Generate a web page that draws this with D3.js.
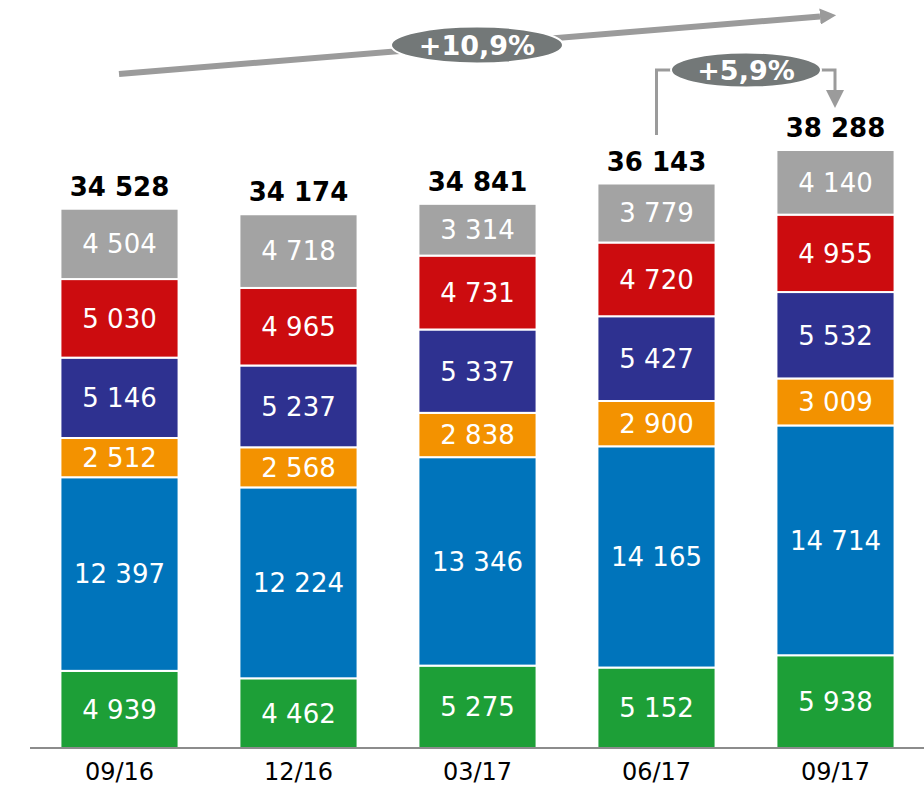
<!DOCTYPE html>
<html><head><meta charset="utf-8">
<script src="https://cdn.jsdelivr.net/npm/d3@7"></script>
<style>html,body{margin:0;padding:0;background:#fff;}svg{display:block;}</style>
</head><body>
<svg id="chart" width="924" height="788"></svg>
<script>
const categories = ["09/16", "12/16", "03/17", "06/17", "09/17"];
const seriesNames = ["s1", "s2", "s3", "s4", "s5", "s6"];
const seriesColors = ["#1d9f37", "#0074bb", "#f39200", "#2e3190", "#cc0c0f", "#a3a3a3"];
const green  = [4939, 4462, 5275, 5152, 5938];
const blue   = [12397, 12224, 13346, 14165, 14714];
const orange = [2512, 2568, 2838, 2900, 3009];
const navy   = [5146, 5237, 5337, 5427, 5532];
const red    = [5030, 4965, 4731, 4720, 4955];
const gray   = [4504, 4718, 3314, 3779, 4140];
const totals = [34528, 34174, 34841, 36143, 38288];
const growthAll = "+10,9%";
const growthLast = "+5,9%";

const seriesValues = [green, blue, orange, navy, red, gray];
const fmt = v => d3.format(",")(v).replace(/,/g, " ");

const svg = d3.select("#chart");
const font = "'DejaVu Sans', Verdana, sans-serif";

const x = d3.scaleBand().domain(categories).range([30, 925]).paddingInner(0.34).paddingOuter(0.17);
const y = d3.scaleLinear().domain([0, 38288]).range([748, 150]);

const table = categories.map((c, i) => {
  const o = {cat: c};
  seriesNames.forEach((s, j) => o[s] = seriesValues[j][i]);
  return o;
});
const stack = d3.stack().keys(seriesNames)(table);

const g = svg.append("g");
stack.forEach((layer, j) => {
  const lg = g.append("g");
  lg.selectAll("rect").data(layer).join("rect")
    .attr("x", d => x(d.data.cat))
    .attr("width", x.bandwidth())
    .attr("y", d => y(d[1]))
    .attr("height", d => y(d[0]) - y(d[1]))
    .attr("fill", seriesColors[j])
    .attr("stroke", "#fff").attr("stroke-width", 2);
  lg.selectAll("text").data(layer).join("text")
    .attr("x", d => x(d.data.cat) + x.bandwidth() / 2)
    .attr("y", d => (y(d[0]) + y(d[1])) / 2)
    .attr("dy", "0.36em")
    .attr("text-anchor", "middle")
    .attr("fill", "#fff")
    .style("font-family", font).style("font-size", "26px")
    .text(d => fmt(d[1] - d[0]));
});

// totals
g.selectAll("text.total").data(categories).join("text").attr("class", "total")
  .attr("x", c => x(c) + x.bandwidth() / 2)
  .attr("y", (c, i) => y(totals[i]) - 13)
  .attr("text-anchor", "middle")
  .style("font-family", font).style("font-size", "26px").style("font-weight", "bold")
  .attr("fill", "#000")
  .text((c, i) => fmt(totals[i]));

// axis
const axis = d3.axisBottom(x).tickSize(0).tickPadding(15);
const ax = svg.append("g").attr("transform", `translate(0,${y(0)})`).call(axis);
ax.select(".domain").attr("stroke", "#8c8c8c").attr("stroke-width", 2).attr("d", "M30,0H924");
ax.selectAll("text").style("font-family", font).style("font-size", "24px").attr("fill", "#000");

// defs
const defs = svg.append("defs");
defs.append("marker").attr("id", "ah").attr("viewBox", "0 0 10 10").attr("refX", 0).attr("refY", 5)
  .attr("markerWidth", 2.7).attr("markerHeight", 2.7).attr("orient", "auto").attr("markerUnits", "strokeWidth")
  .append("path").attr("d", "M0,0L10,5L0,10Z").attr("fill", "#9b9b9b");
defs.append("marker").attr("id", "ah2").attr("viewBox", "0 0 10 10").attr("refX", 0).attr("refY", 5)
  .attr("markerWidth", 6).attr("markerHeight", 6).attr("orient", "auto").attr("markerUnits", "strokeWidth")
  .append("path").attr("d", "M0,0L10,5L0,10Z").attr("fill", "#9b9b9b");

// big arrow
const ann = svg.append("g");
ann.append("line").attr("x1", 119).attr("y1", 74).attr("x2", 820).attr("y2", 16.5)
  .attr("stroke", "#9b9b9b").attr("stroke-width", 6).attr("marker-end", "url(#ah)");
ann.append("ellipse").attr("cx", 477).attr("cy", 45).attr("rx", 86).attr("ry", 18.5)
  .attr("fill", "#737878").attr("stroke", "#fff").attr("stroke-width", 2);
ann.append("text").attr("x", 477).attr("y", 45).attr("dy", "0.36em").attr("text-anchor", "middle")
  .attr("fill", "#fff").style("font-family", font).style("font-size", "27px").style("font-weight", "bold")
  .text(growthAll);

// bracket arrow
const x4 = x(categories[3]) + x.bandwidth() / 2;
const x5 = 835;
ann.append("path").attr("d", `M${x4},135V70H${x5}V90`)
  .attr("fill", "none").attr("stroke", "#9b9b9b").attr("stroke-width", 3).attr("marker-end", "url(#ah2)");
ann.append("ellipse").attr("cx", 746).attr("cy", 70).attr("rx", 75).attr("ry", 17.5)
  .attr("fill", "#737878").attr("stroke", "#fff").attr("stroke-width", 2);
ann.append("text").attr("x", 746).attr("y", 70).attr("dy", "0.36em").attr("text-anchor", "middle")
  .attr("fill", "#fff").style("font-family", font).style("font-size", "27px").style("font-weight", "bold")
  .text(growthLast);
</script>
</body></html>
